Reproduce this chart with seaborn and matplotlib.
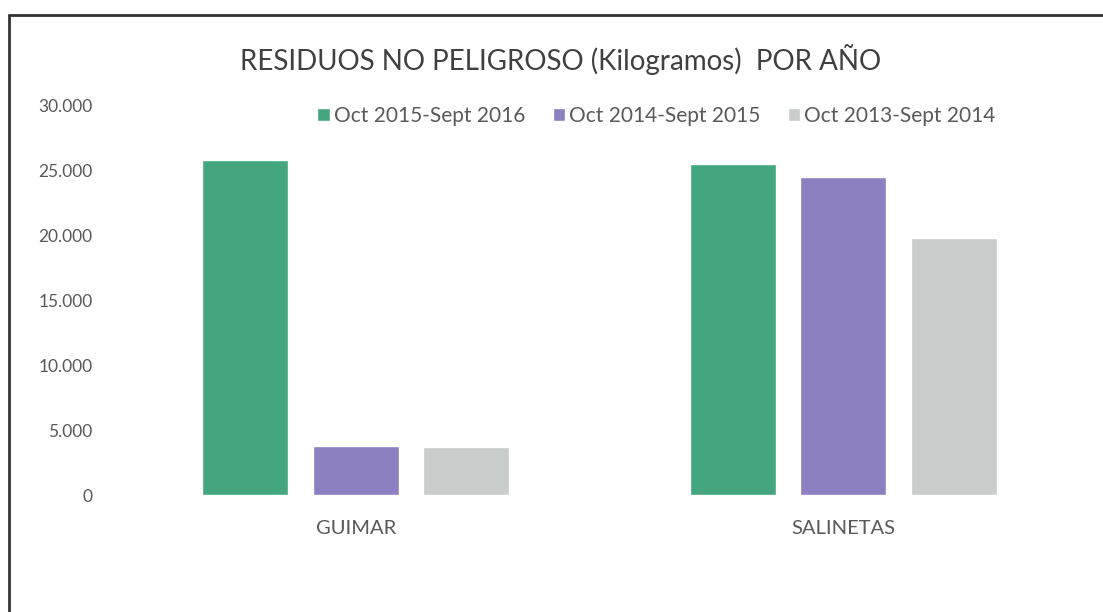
"""
Residuos no peligrosos por año: barras agrupadas por centro.
"""

import matplotlib

matplotlib.use("Agg")
import matplotlib.pyplot as plt
from matplotlib.lines import Line2D
from matplotlib.ticker import FuncFormatter
import pandas as pd
import seaborn as sns

# Datos
centros = ["GUIMAR", "SALINETAS"]
periodos = ["Oct 2015-Sept 2016", "Oct 2014-Sept 2015", "Oct 2013-Sept 2014"]
kg_2016 = [25800, 25500]
kg_2015 = [3800, 24500]
kg_2014 = [3700, 19800]
colores = ["#43A67E", "#8D80C1", "#C8CCCB"]

sns.set_theme(style="white")
plt.rcParams["font.family"] = ["Lato", "DejaVu Sans"]

df = pd.DataFrame(
    {
        "centro": centros * 3,
        "periodo": [p for p in periodos for _ in centros],
        "kg": kg_2016 + kg_2015 + kg_2014,
    }
)

fig = plt.figure(figsize=(11.03, 6.12), dpi=100)
ax = fig.add_axes([0.1015, 0.191, 0.884, 0.637])

sns.barplot(
    data=df,
    x="centro",
    y="kg",
    hue="periodo",
    hue_order=periodos,
    palette=colores,
    saturation=1,
    width=0.68,
    gap=0.22,
    errorbar=None,
    ax=ax,
)

ax.set_ylim(0, 30000)
ax.set_xlim(-0.5, 1.5)
ax.set_yticks(range(0, 30001, 5000))
ax.yaxis.set_major_formatter(
    FuncFormatter(lambda v, _: f"{int(v):,}".replace(",", "."))
)
ax.set_xlabel("")
ax.set_ylabel("")
for s in ax.spines.values():
    s.set_visible(False)
ax.tick_params(axis="y", labelsize=12.5, labelcolor="#595959", pad=14, length=0)
ax.tick_params(axis="x", labelsize=14.5, labelcolor="#595959", pad=18, length=0)

# Leyenda arriba, sin marco
leg = ax.legend(
    loc="upper left",
    bbox_to_anchor=(0.2, 1.025),
    ncol=3,
    frameon=False,
    fontsize=15,
    handlelength=0.6,
    handleheight=0.6,
    handletextpad=0.2,
    columnspacing=1.3,
    borderaxespad=0.1,
)
for t in leg.get_texts():
    t.set_color("#595959")

fig.text(
    0.508,
    0.902,
    "RESIDUOS NO PELIGROSO (Kilogramos)  POR AÑO",
    ha="center",
    va="center",
    fontsize=20,
    color="#404040",
)

# Marco del gráfico (recortado abajo y a la derecha)
fig.add_artist(Line2D([0.008, 0.008], [0.0, 0.976], color="#333333", lw=2))
fig.add_artist(Line2D([0.008, 1.0], [0.976, 0.976], color="#333333", lw=2))

plt.savefig("out.png", dpi=100)
plt.close(fig)
